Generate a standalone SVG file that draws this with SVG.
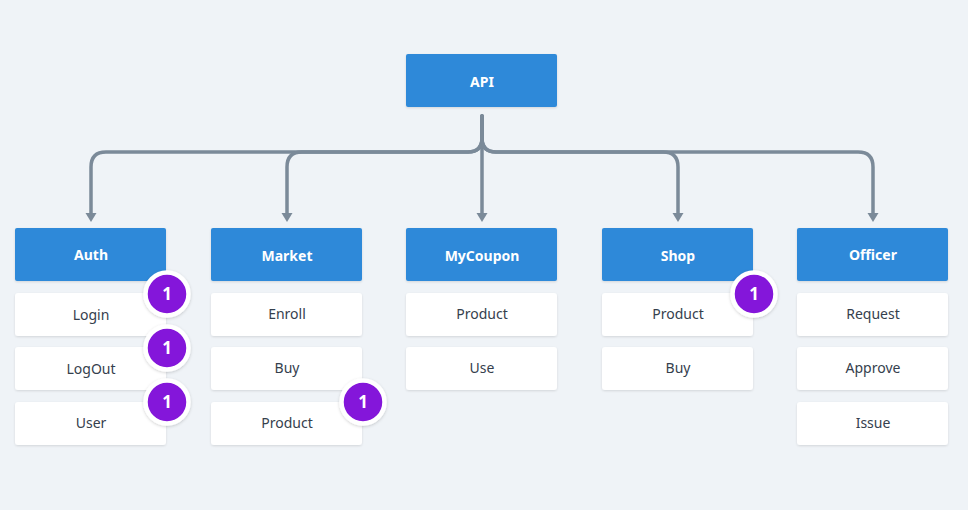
<svg xmlns="http://www.w3.org/2000/svg" width="968" height="510" viewBox="0 0 968 510">
<defs>
<filter id="sh" x="-10%" y="-20%" width="120%" height="150%"><feDropShadow dx="0" dy="1" stdDeviation="1.2" flood-color="#000" flood-opacity="0.12"/></filter>
<filter id="bsh" x="-40%" y="-40%" width="180%" height="180%"><feDropShadow dx="0" dy="1" stdDeviation="1.5" flood-color="#000" flood-opacity="0.18"/></filter>
</defs>
<style>
.hdr{fill:#2d89d9;filter:url(#sh)}
.item{fill:#ffffff;filter:url(#sh)}
.ht{font-family:"Noto Sans","DejaVu Sans",sans-serif;font-size:14px;font-weight:bold;fill:#ffffff;text-anchor:middle;dominant-baseline:central}
.it{font-family:"Noto Sans","DejaVu Sans",sans-serif;font-size:14px;fill:#35404d;text-anchor:middle;dominant-baseline:central}
.con{fill:none;stroke:#7b8a99;stroke-width:3.5;stroke-linecap:round;stroke-linejoin:round}
.ah{fill:#7b8a99}
.bc{fill:#8413da;stroke:#ffffff;stroke-width:4.5;filter:url(#bsh)}
.bt{font-family:"Noto Sans","DejaVu Sans",sans-serif;font-size:17px;font-weight:bold;fill:#ffffff;text-anchor:middle;dominant-baseline:central}
</style>
<rect x="0" y="0" width="968" height="510" fill="#eff3f7"/>

<g id="connectors">
<path class="con" d="M482,116 V138 Q482,152 468,152 H106 Q91,152 91,167 V214"/>
<path class="con" d="M482,116 V138 Q482,152 468,152 H302 Q287,152 287,167 V214"/>
<path class="con" d="M482,116 V214"/>
<path class="con" d="M482,116 V138 Q482,152 496,152 H663 Q678,152 678,167 V214"/>
<path class="con" d="M482,116 V138 Q482,152 496,152 H858 Q873,152 873,167 V214"/>
<path class="ah" d="M85.5,213 H96.5 L91,222 Z"/>
<path class="ah" d="M281.5,213 H292.5 L287,222 Z"/>
<path class="ah" d="M476.5,213 H487.5 L482,222 Z"/>
<path class="ah" d="M672.5,213 H683.5 L678,222 Z"/>
<path class="ah" d="M867.5,213 H878.5 L873,222 Z"/>
</g>

<g id="api">
<rect class="hdr" x="406" y="54" width="151" height="53" rx="2"/>
<text class="ht" x="482" y="81">API</text>
</g>

<g id="auth">
<rect class="hdr" x="15" y="228" width="151" height="53" rx="2"/>
<text class="ht" x="91" y="254">Auth</text>
<rect class="item" x="15" y="293" width="151" height="43" rx="3"/>
<text class="it" x="91" y="314">Login</text>
<rect class="item" x="15" y="347" width="151" height="43" rx="3"/>
<text class="it" x="91" y="368">LogOut</text>
<rect class="item" x="15" y="402" width="151" height="43" rx="3"/>
<text class="it" x="91" y="422">User</text>
</g>

<g id="market">
<rect class="hdr" x="211" y="228" width="151" height="53" rx="2"/>
<text class="ht" x="287" y="255">Market</text>
<rect class="item" x="211" y="293" width="151" height="43" rx="3"/>
<text class="it" x="287" y="313">Enroll</text>
<rect class="item" x="211" y="347" width="151" height="43" rx="3"/>
<text class="it" x="287" y="367">Buy</text>
<rect class="item" x="211" y="402" width="151" height="43" rx="3"/>
<text class="it" x="287" y="422">Product</text>
</g>

<g id="mycoupon">
<rect class="hdr" x="406" y="228" width="151" height="53" rx="2"/>
<text class="ht" x="482" y="255">MyCoupon</text>
<rect class="item" x="406" y="293" width="151" height="43" rx="3"/>
<text class="it" x="482" y="313">Product</text>
<rect class="item" x="406" y="347" width="151" height="43" rx="3"/>
<text class="it" x="482" y="367">Use</text>
</g>

<g id="shop">
<rect class="hdr" x="602" y="228" width="151" height="53" rx="2"/>
<text class="ht" x="678" y="255">Shop</text>
<rect class="item" x="602" y="293" width="151" height="43" rx="3"/>
<text class="it" x="678" y="313">Product</text>
<rect class="item" x="602" y="347" width="151" height="43" rx="3"/>
<text class="it" x="678" y="367">Buy</text>
</g>

<g id="officer">
<rect class="hdr" x="797" y="228" width="151" height="53" rx="2"/>
<text class="ht" x="873" y="254">Officer</text>
<rect class="item" x="797" y="293" width="151" height="43" rx="3"/>
<text class="it" x="873" y="313">Request</text>
<rect class="item" x="797" y="347" width="151" height="43" rx="3"/>
<text class="it" x="873" y="367">Approve</text>
<rect class="item" x="797" y="402" width="151" height="43" rx="3"/>
<text class="it" x="873" y="422">Issue</text>
</g>

<g id="badges">
<g id="badge-login"><circle class="bc" cx="167" cy="294" r="21.5"/><text class="bt" x="167" y="293">1</text></g>
<g id="badge-logout"><circle class="bc" cx="167" cy="348" r="21.5"/><text class="bt" x="167" y="347">1</text></g>
<g id="badge-user"><circle class="bc" cx="167" cy="402" r="21.5"/><text class="bt" x="167" y="401">1</text></g>
<g id="badge-market-product"><circle class="bc" cx="363" cy="402" r="21.5"/><text class="bt" x="363" y="401">1</text></g>
<g id="badge-shop-product"><circle class="bc" cx="754" cy="294" r="21.5"/><text class="bt" x="754" y="293">1</text></g>
</g>
</svg>
